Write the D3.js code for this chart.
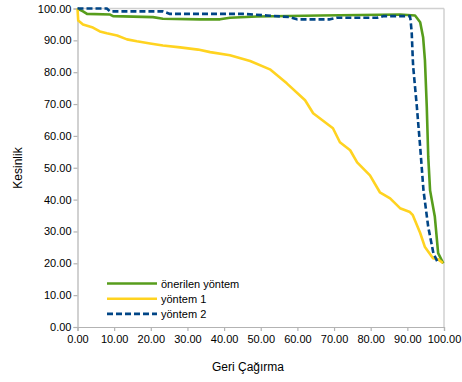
<!DOCTYPE html>
<html><head><meta charset="utf-8">
<script src="https://cdn.jsdelivr.net/npm/d3@7"></script>
<style>body{margin:0;background:#fff}svg{display:block}text{font-family:"Liberation Sans",Arial,sans-serif;fill:#000}</style>
</head><body>
<svg id="c" width="462" height="382"></svg>
<script>
const xTicks = [0,10,20,30,40,50,60,70,80,90,100];
const yTicks = [0,10,20,30,40,50,60,70,80,90,100];
const seriesNames = ["önerilen yöntem","yöntem 1","yöntem 2"];
const seriesColors = ["#579D1C","#FFD320","#004586"];
const proposed = [[0,100],[1.5,99.1],[2.6,98.3],[8.9,98.1],[9.7,97.6],[20.6,97.3],[23.3,96.8],[33.4,96.6],[38.9,96.6],[41.6,97.1],[49.0,97.5],[66.2,97.8],[88.0,98.1],[92.1,97.8],[93.5,95.7],[94.3,91.0],[94.8,83.7],[95.3,69.1],[95.7,53.4],[96.2,42.9],[97.5,34.6],[98.4,23.2],[99.8,20.0]];
const method1 = [[0,100],[0.2,96.2],[1.5,95.0],[4.2,94.0],[6.1,92.8],[8.0,92.2],[10.8,91.5],[13.5,90.3],[16.2,89.7],[19.8,89.0],[23.3,88.4],[28.0,87.8],[32.9,87.1],[36.2,86.3],[41.6,85.3],[47.1,83.5],[52.5,80.9],[57.1,76.5],[62.1,71.2],[64.3,67.1],[69.7,62.4],[71.6,58.0],[74.4,55.5],[76.3,51.7],[79.8,47.6],[82.5,42.3],[85.3,40.4],[88.0,37.3],[90.7,36.1],[91.5,35.1],[93.5,29.5],[94.8,25.1],[97.0,21.6],[98.3,21.3],[99.7,20.1]];
const method2 = [[0,100],[8.0,100],[8.9,99.1],[23.3,99.1],[25.2,98.3],[45.2,98.3],[51.7,97.8],[58.0,97.3],[59.9,96.6],[68.9,96.6],[70.8,97.1],[81.7,97.1],[83.4,97.6],[90.7,97.6],[90.9,96.2],[91.2,92.2],[91.5,83.7],[91.6,81.6],[92.6,69.1],[93.5,56.5],[94.4,42.9],[95.7,31.4],[97.1,23.2],[98.4,20.0]];
const seriesData = [proposed, method1, method2];

const svg = d3.select("#c");
const L = 77.5, R = 444, T = 8.5, B = 327;
const x = d3.scaleLinear().domain([0,100]).range([L,R]);
const y = d3.scaleLinear().domain([0,100]).range([B,T]);
const fmt = d3.format(".2f");
const axisCol = "#b3b3b3";

// frame top/right
svg.append("line").attr("x1",L).attr("x2",R).attr("y1",T).attr("y2",T).attr("stroke","#d0d0d0").attr("stroke-width",1.5);
svg.append("line").attr("x1",R).attr("x2",R).attr("y1",T).attr("y2",B).attr("stroke","#d0d0d0").attr("stroke-width",1.5);

const gx = svg.append("g").attr("transform",`translate(0,${B})`)
  .call(d3.axisBottom(x).tickValues(xTicks).tickFormat(fmt).tickSize(4).tickPadding(4));
const gy = svg.append("g").attr("transform",`translate(${L},0)`)
  .call(d3.axisLeft(y).tickValues(yTicks).tickFormat(fmt).tickSize(4).tickPadding(2));
[gx,gy].forEach(g=>{
  g.selectAll("path,line").attr("stroke",axisCol).attr("stroke-width",1.2);
  g.selectAll("text").attr("font-size",11).attr("font-family","Liberation Sans, Arial, sans-serif").attr("fill","#000");
});

const line = d3.line().x(d=>x(d[0])).y(d=>y(d[1]));
const order = [0,1,2];
order.forEach(i=>{
  svg.append("path").datum(seriesData[i]).attr("d",line).attr("fill","none")
    .attr("stroke",seriesColors[i]).attr("stroke-width",2.6).attr("stroke-linejoin","round")
    .attr("stroke-dasharray", i===2 ? "6,3" : null);
});

// legend
const lg = svg.append("g");
seriesNames.forEach((n,i)=>{
  const yy = 283.5 + i*15.2;
  lg.append("line").attr("x1",107).attr("x2",157).attr("y1",yy).attr("y2",yy)
    .attr("stroke",seriesColors[i]).attr("stroke-width",2.6).attr("stroke-dasharray", i===2 ? "6,3" : null);
  lg.append("text").attr("x",161).attr("y",yy+4).attr("font-size",11).text(n);
});

svg.append("text").attr("x",248).attr("y",371).attr("text-anchor","middle").attr("font-size",12).text("Geri Çağırma");
svg.append("text").attr("transform","translate(22,168) rotate(-90)").attr("text-anchor","middle").attr("font-size",12).text("Kesinlik");
</script>
</body></html>
